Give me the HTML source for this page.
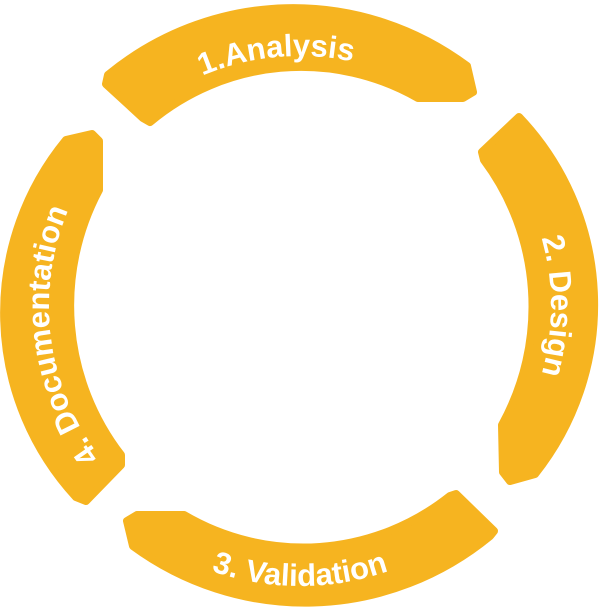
<!DOCTYPE html>
<html><head><meta charset="utf-8"><style>
html,body{margin:0;padding:0;background:#fff;}
svg{display:block;}
text{font-family:"Liberation Sans",sans-serif;font-weight:bold;fill:#fff;font-size:31px;}
</style></head><body>
<svg width="600" height="613" viewBox="0 0 600 613" xmlns="http://www.w3.org/2000/svg">
<defs>
<path id="cw" d="M300 556 A251 250 0 0 1 300 56 A251 250 0 0 1 300 556"/>
<path id="ccw" d="M26 306 A274 280 0 0 0 574 306"/>
</defs>
<g fill="#F6B420" stroke="#F6B420" stroke-width="8" stroke-linejoin="round">
<path d="M108 75 A296 304 0 0 1 467 66 L473 92 L463 98 L418 98 A238 242 0 0 0 150 122 L143 118 L106 84 Z"/>
<path d="M519 117 A272 272 0 0 1 535 474 L510 481 L503 472 L502 425 A238 242 0 0 0 484 160 L482 152 Z"/>
<path d="M490 536 A296 304 0 0 1 133 546 L127 521 L137 515 L184 515 A238 242 0 0 0 450 496 L456 494 L494 531 Z"/>
<path d="M76 497 A272 272 0 0 1 66 140 L92 134 L99 141 L99 190 A238 242 0 0 0 121 455 L121 465 L86 501 Z"/>
</g>
<text><textPath href="#cw" startOffset="48.5%" text-anchor="middle">1.Analysis</textPath></text>
<text><textPath href="#cw" startOffset="75%" text-anchor="middle">2. Design</textPath></text>
<text><textPath href="#cw" startOffset="23%" text-anchor="middle">4. Documentation</textPath></text>
<text><textPath href="#ccw" startOffset="50%" text-anchor="middle">3. Validation</textPath></text>
</svg>
</body></html>
